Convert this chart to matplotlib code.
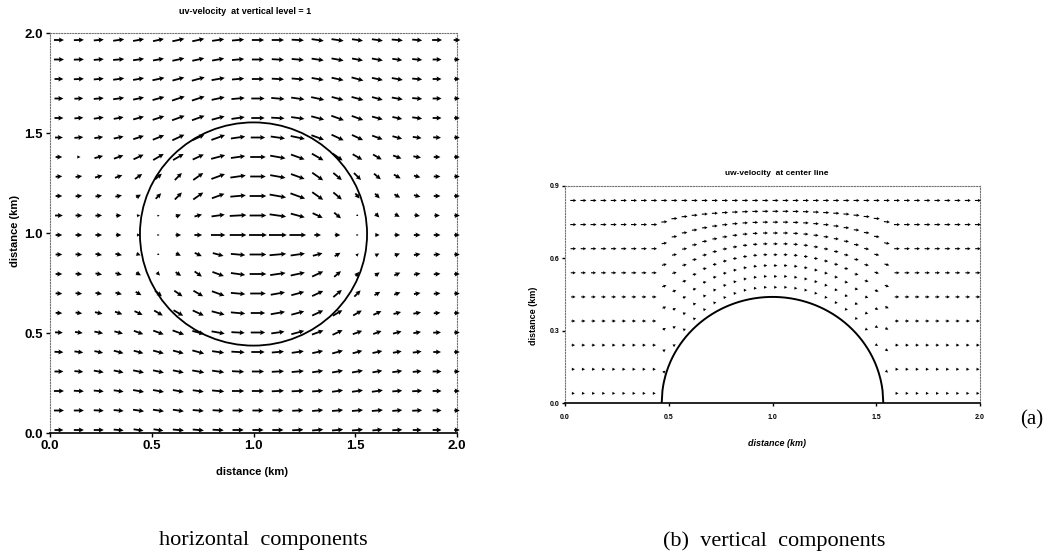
import numpy as np
import matplotlib
matplotlib.use("Agg")
import matplotlib.pyplot as plt
from matplotlib.patches import Circle

plt.rcParams['font.family'] = ['Liberation Sans', 'DejaVu Sans']

# ---------------- data: (a) uv-velocity at vertical level = 1 ----------------
UV_X = np.linspace(0.044, 2.0, 21)            # arrow centres (km)
UV_Y = np.linspace(1.965, 0.015, 21)          # rows, top to bottom (km)

# arrow direction (degrees, counter-clockwise from east), rows top -> bottom
UV_ANGLE_DEG = [
    [0, 2, 5, 8, 10, 12, 12, 12, 8, 5, 0, 0, -3, -8, -8, -8, -8, -5, -5, 0, 0],
    [0, 2, 5, 5, 8, 10, 12, 12, 10, 5, 0, -3, -5, -8, -10, -10, -10, -8, -5, 0, 0],
    [0, 3, 5, 8, 10, 12, 15, 15, 10, 5, 0, -3, -5, -10, -12, -15, -12, -10, -5, 0, 0],
    [0, 3, 5, 8, 12, 15, 18, 18, 12, 5, 0, -5, -8, -12, -15, -15, -15, -10, -5, 0, 0],
    [0, 5, 8, 10, 15, 18, 20, 20, 15, 8, 0, -3, -8, -15, -20, -20, -15, -12, -8, 0, 0],
    [0, 5, 8, 12, 18, 22, 25, 25, 20, 8, 0, -8, -12, -20, -25, -25, -20, -15, -8, -3, 0],
    [0, 0, 15, 20, 25, 30, 30, 25, 15, 8, 0, -10, -20, -30, -35, -30, -30, -20, -10, 0, 0],
    [5, 8, 15, 20, 35, 40, 45, 35, 20, 8, 0, -10, -20, -35, -40, -45, -40, -30, -15, 0, 0],
    [0, 5, 8, 12, 30, 45, 45, 35, 20, 5, 0, -10, -20, -35, -40, -50, -45, -30, -15, 0, 0],
    [0, 0, 3, 3, 10, 20, 20, 15, 8, 3, 0, -8, -15, -25, -40, -30, -45, -30, -10, 0, 0],
    [0, 0, 0, 0, 0, 0, 0, 0, 0, 0, 0, 0, 0, 0, 0, 0, 0, 0, 0, 0, 0],
    [0, -3, -10, -12, -20, -30, -25, -25, -15, -5, 0, 5, 8, 15, 30, 45, 30, 20, 10, 5, 0],
    [0, -5, -10, -15, -30, -45, -35, -35, -20, -8, 0, 8, 12, 25, 40, 50, 35, 25, 10, 5, 0],
    [-3, -5, -10, -15, -30, -40, -35, -30, -20, -5, 0, 10, 15, 25, 40, 45, 30, 20, 10, 5, 0],
    [-3, -8, -12, -20, -25, -30, -30, -25, -15, -5, 0, 10, 15, 25, 30, 30, 25, 15, 10, 5, 0],
    [-3, -8, -12, -15, -20, -20, -20, -15, -10, -3, 0, 8, 15, 20, 25, 20, 20, 15, 10, 3, 0],
    [-3, -8, -12, -15, -15, -15, -15, -15, -8, -3, 0, 5, 8, 12, 15, 15, 12, 10, 8, 0, 0],
    [0, -5, -10, -12, -12, -12, -12, -10, -8, -3, 0, 3, 5, 8, 10, 10, 10, 8, 5, 0, 0],
    [0, -3, -5, -8, -10, -10, -10, -8, -5, 0, 0, 3, 3, 5, 8, 8, 8, 5, 3, 0, 0],
    [0, 0, -3, -5, -8, -8, -8, -5, -3, 0, 0, 0, 3, 5, 5, 5, 5, 5, 3, 0, 0],
    [0, 0, 0, -5, -8, -8, -5, -5, -3, 0, 0, 0, 3, 5, 5, 5, 5, 3, 0, 0, 0],
]

# relative speed (arrow length), rows top -> bottom
UV_SPEED = [
    [9, 9, 9, 10, 10, 10, 11, 11, 11, 11, 11, 11, 11, 11, 11, 10, 10, 10, 9, 9, 6],
    [9, 9, 9, 10, 10, 10, 11, 11, 11, 11, 11, 11, 11, 11, 11, 10, 10, 9, 9, 8, 5],
    [8, 9, 9, 10, 10, 11, 11, 12, 12, 11, 11, 11, 11, 11, 11, 11, 10, 10, 9, 8, 5],
    [8, 8, 9, 10, 10, 11, 12, 12, 12, 12, 12, 12, 12, 12, 11, 11, 10, 10, 9, 8, 5],
    [8, 8, 9, 9, 10, 11, 12, 12, 12, 12, 12, 12, 12, 12, 12, 11, 10, 9, 9, 8, 5],
    [7, 8, 8, 9, 10, 11, 12, 12, 13, 13, 13, 13, 13, 12, 12, 11, 10, 9, 8, 7, 5],
    [6, 3, 8, 9, 10, 11, 11, 11, 13, 13, 14, 14, 13, 12, 11, 10, 9, 8, 7, 6, 5],
    [6, 6, 7, 7, 8, 8, 9, 11, 13, 14, 14, 14, 13, 12, 10, 9, 8, 7, 6, 6, 5],
    [6, 6, 6, 6, 5, 7, 9, 11, 12, 14, 15, 15, 14, 12, 10, 6, 6, 6, 6, 6, 5],
    [7, 6, 6, 5, 3, 2, 5, 7, 12, 15, 15, 15, 13, 10, 8, 2, 5, 5, 5, 5, 5],
    [6, 6, 6, 5, 3, 2, 5, 7, 13, 15, 16, 16, 15, 6, 5, 2, 4, 5, 6, 6, 5],
    [6, 6, 6, 6, 4, 2, 5, 7, 10, 13, 15, 15, 13, 9, 6, 3, 4, 5, 6, 6, 5],
    [6, 6, 6, 6, 5, 4, 6, 8, 11, 13, 15, 14, 13, 11, 8, 5, 5, 6, 6, 6, 5],
    [6, 6, 6, 6, 6, 8, 9, 10, 12, 13, 14, 13, 12, 11, 10, 8, 6, 6, 6, 6, 5],
    [6, 6, 7, 7, 8, 9, 10, 11, 12, 13, 13, 13, 12, 11, 10, 9, 8, 7, 7, 6, 5],
    [7, 7, 8, 8, 9, 10, 11, 11, 12, 12, 13, 12, 12, 11, 10, 9, 8, 8, 7, 7, 5],
    [8, 8, 8, 9, 9, 10, 10, 11, 11, 12, 12, 11, 11, 10, 10, 9, 9, 8, 8, 7, 5],
    [8, 8, 9, 9, 10, 10, 10, 11, 11, 11, 11, 11, 11, 10, 10, 10, 9, 9, 8, 8, 5],
    [9, 9, 9, 9, 10, 10, 10, 10, 11, 11, 11, 11, 11, 10, 10, 10, 10, 9, 9, 8, 5],
    [9, 9, 9, 9, 10, 10, 10, 10, 10, 10, 10, 10, 10, 10, 10, 10, 10, 9, 9, 8, 5],
    [8, 9, 9, 9, 9, 9, 10, 10, 10, 10, 10, 10, 10, 10, 10, 10, 9, 9, 8, 8, 5],
]

CIRCLE_CENTER = (1.0, 0.995)
CIRCLE_RADIUS = 0.558

# ---------------- data: (b) uw-velocity at center line ----------------
UW_X = np.linspace(0.04, 1.99, 41)            # column positions (km)
TERRAIN_H = [0, 0, 0, 0, 0, 0, 0, 0, 0,
             0.09, 0.20, 0.265, 0.31, 0.348, 0.376, 0.398, 0.415, 0.428, 0.436, 0.44, 0.44,
             0.44, 0.436, 0.428, 0.415, 0.398, 0.376, 0.348, 0.31, 0.265, 0.20, 0.09,
             0, 0, 0, 0, 0, 0, 0, 0, 0]
GRID_BOTTOM = 0.04                            # first level above ground (km)
GRID_TOP = 0.84                               # top level (km)
N_LEVELS = 9
LEVEL_SPEED = [3.0, 3.2, 3.5, 4.0, 4.5, 5.0, 5.5, 6.0, 6.0]   # bottom -> top
TILT_DEG = [0, 0, 0, 0, 0, 0, 0, 0, 0,
            40, 30, 22, 17, 13, 10, 8, 6, 4, 2, 1, 0,
            -1, -2, -4, -6, -8, -10, -13, -17, -22, -30, -40,
            0, 0, 0, 0, 0, 0, 0, 0, 0]
LEVEL_TILT = [1.0, 0.875, 0.75, 0.625, 0.5, 0.375, 0.25, 0.125, 0.0]
HILL_CENTER = 1.0
HILL_HALF_WIDTH = 0.534
HILL_HEIGHT = 0.44

# ---------------- figure ----------------
W, H = 1054, 558
fig = plt.figure(figsize=(W / 100, H / 100), dpi=100)
fig.patch.set_facecolor('white')


def style_axes(ax, lab_size, tick_len):
    for side in ('left', 'top', 'right'):
        ax.spines[side].set_linestyle((0, (1, 1.5)))
        ax.spines[side].set_color('0.45')
        ax.spines[side].set_linewidth(0.8)
    ax.spines['bottom'].set_color('black')
    ax.spines['bottom'].set_linewidth(1.2)
    ax.tick_params(direction='out', length=tick_len, width=1, labelsize=lab_size,
                   top=False, right=False, pad=2)
    for lbl in ax.get_xticklabels() + ax.get_yticklabels():
        lbl.set_fontweight('bold')


# ---- left panel ----
ax1 = fig.add_axes([50 / W, 1 - 433 / H, 407 / W, 400 / H])
XX, YY = np.meshgrid(UV_X, UV_Y)
ang = np.deg2rad(np.array(UV_ANGLE_DEG, dtype=float))
spd = np.array(UV_SPEED, dtype=float)
U = spd * np.cos(ang)
V = spd * np.sin(ang)
ax1.quiver(XX, YY, U, V, angles='uv', scale_units='dots', scale=0.9, pivot='middle',
           units='dots', width=1.8, headwidth=2.8, headlength=2.8, headaxislength=2.5,
           color='black', clip_on=False, zorder=3)
ax1.add_patch(Circle(CIRCLE_CENTER, CIRCLE_RADIUS, fill=False, lw=1.3, color='black', zorder=4))
ax1.set_xlim(0, 2)
ax1.set_ylim(0, 2)
ax1.set_xticks([0, 0.5, 1.0, 1.5, 2.0])
ax1.set_yticks([0, 0.5, 1.0, 1.5, 2.0])
ax1.set_xticklabels(['0.0', '0.5', '1.0', '1.5', '2.0'])
ax1.set_yticklabels(['0.0', '0.5', '1.0', '1.5', '2.0'])
style_axes(ax1, 9.5, 3)
ax1.set_xlabel('distance (km)', fontsize=8, fontweight='bold', va='center')
ax1.xaxis.set_label_coords((252 - 50) / 407, (433 - 472) / 400)
ax1.set_ylabel('distance (km)', fontsize=8, fontweight='bold', va='center')
ax1.yaxis.set_label_coords((15 - 50) / 407, (433 - 231) / 400)
ax1.text((245 - 50) / 407, (433 - 11) / 400, 'uv-velocity  at vertical level = 1',
         transform=ax1.transAxes, ha='center', va='center', fontsize=6.5, fontweight='bold')

# ---- right panel ----
ax2 = fig.add_axes([565 / W, 1 - 403 / H, 415 / W, 217 / H])
h = np.array(TERRAIN_H)
k = np.arange(N_LEVELS)
XC = np.tile(UW_X, (N_LEVELS, 1))
ZC = h[None, :] + GRID_BOTTOM + k[:, None] * ((GRID_TOP - GRID_BOTTOM) - h[None, :]) / (N_LEVELS - 1)
tilt = np.deg2rad(np.array(TILT_DEG)[None, :] * np.array(LEVEL_TILT)[:, None])
sp = np.array(LEVEL_SPEED)[:, None] * np.ones_like(XC)
UU = sp * np.cos(tilt)
WW = sp * np.sin(tilt)
ax2.quiver(XC, ZC, UU, WW, angles='uv', scale_units='dots', scale=1, pivot='middle',
           units='dots', width=1.1, headwidth=3.0, headlength=2.8, headaxislength=2.5,
           color='black', clip_on=False, zorder=3)
tt = np.linspace(-1, 1, 300)
hx = HILL_CENTER + HILL_HALF_WIDTH * tt
hz = HILL_HEIGHT * np.sqrt(np.clip(1 - tt ** 2, 0, None))
ax2.plot(hx, hz, color='black', lw=1.4, zorder=4)
ax2.set_xlim(0, 2)
ax2.set_ylim(0, 0.9)
ax2.set_xticks([0, 0.5, 1.0, 1.5, 2.0])
ax2.set_yticks([0, 0.3, 0.6, 0.9])
ax2.set_xticklabels(['0.0', '0.5', '1.0', '1.5', '2.0'])
ax2.set_yticklabels(['0.0', '0.3', '0.6', '0.9'])
style_axes(ax2, 5, 2)
ax2.tick_params(axis='x', pad=6)
ax2.set_xlabel('distance (km)', fontsize=6.5, fontweight='bold', style='italic', va='center')
ax2.xaxis.set_label_coords((777 - 565) / 415, (403 - 443) / 217)
ax2.set_ylabel('distance (km)', fontsize=6.5, fontweight='bold', va='center')
ax2.yaxis.set_label_coords((533 - 565) / 415, (403 - 316) / 217)
ax2.text((777 - 565) / 415, (403 - 174) / 217, 'uw-velocity  at center line',
         transform=ax2.transAxes, ha='center', va='center', fontsize=6, fontweight='bold')

# ---- captions ----
fig.text(263 / W, 1 - 541 / H, 'horizontal  components', family='Liberation Serif',
         fontsize=16, ha='center', va='center')
fig.text(774 / W, 1 - 541 / H, '(b)  vertical  components', family='Liberation Serif',
         fontsize=16, ha='center', va='center')
fig.text(1032 / W, 1 - 420 / H, '(a)', family='Liberation Serif',
         fontsize=15, ha='center', va='center')

fig.savefig('out.png', dpi=100, facecolor='white')
